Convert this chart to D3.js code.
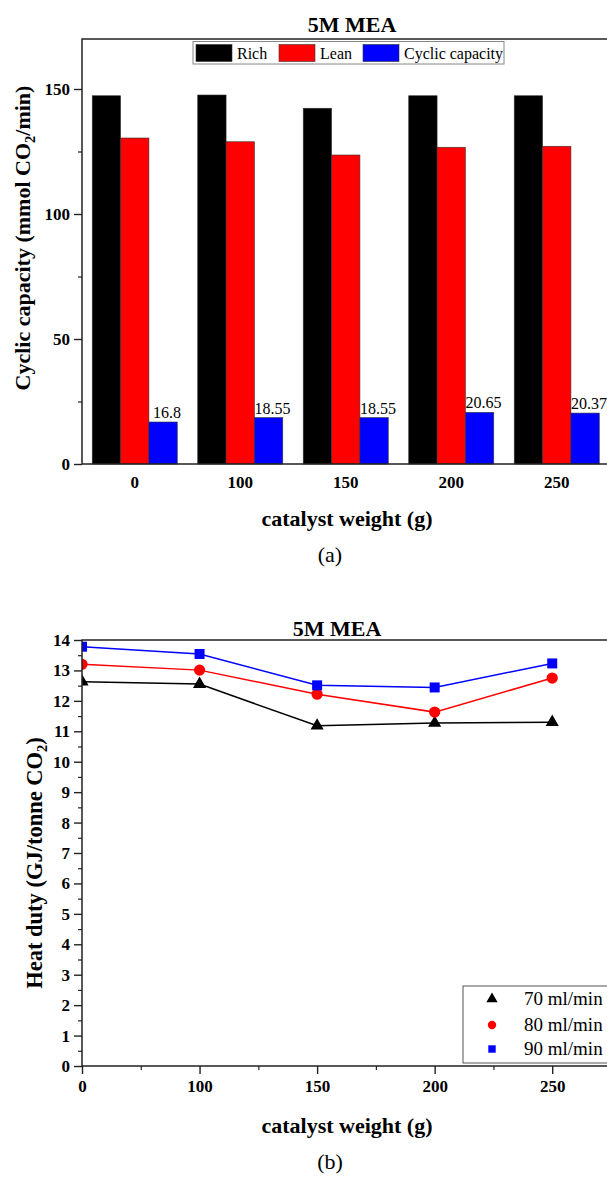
<!DOCTYPE html>
<html>
<head>
<meta charset="utf-8">
<script src="https://cdn.jsdelivr.net/npm/d3@7"></script>
<style>
  html, body { margin: 0; padding: 0; background: #fff; }
  svg { display: block; }
  text { font-family: "Liberation Serif", "Times New Roman", serif; }
</style>
</head>
<body>
<svg id="fig" width="607" height="1178"></svg>
<script>
// ---- data ----
const categories = ["0", "100", "150", "200", "250"];
const richValues = [147.3, 147.6, 142.3, 147.3, 147.3];
const leanValues = [130.4, 128.9, 123.6, 126.7, 127.1];
const cyclicValues = [16.8, 18.55, 18.55, 20.65, 20.37];
const barSeries = ["Rich", "Lean", "Cyclic capacity"];
const barColors = ["#000000", "#ff0000", "#0000ff"];
const barTicks = [0, 50, 100, 150];

const flow70 = [12.63, 12.55, 11.18, 11.27, 11.30];
const flow80 = [13.20, 13.01, 12.22, 11.63, 12.75];
const flow90 = [13.78, 13.54, 12.51, 12.44, 13.23];
const lineSeries = ["70 ml/min", "80 ml/min", "90 ml/min"];
const lineColors = ["#000000", "#ff0000", "#0000ff"];
const heatTicks = d3.range(0, 15, 1);

const svg = d3.select("#fig");
const axisColor = "#222";

// ================= (a) grouped bars =================
const A = { left: 82, right: 609.5, top: 39, bottom: 464 };
const xA = d3.scaleBand().domain(categories).range([A.left, A.right])
  .paddingInner(0.194).paddingOuter(0.097);
const xInner = d3.scaleBand().domain(barSeries).range([0, xA.bandwidth()]);
const yA = d3.scaleLinear().domain([0, 170]).range([A.bottom, A.top]);

const gA = svg.append("g");
const barData = categories.map((c, i) => ({
  cat: c, vals: [richValues[i], leanValues[i], cyclicValues[i]]
}));

const groups = gA.selectAll("g.grp").data(barData).join("g")
  .attr("class", "grp")
  .attr("transform", d => `translate(${xA(d.cat)},0)`);
groups.selectAll("rect").data(d => d.vals.map((v, k) => ({ v, k }))).join("rect")
  .attr("x", d => xInner(barSeries[d.k]))
  .attr("y", d => yA(d.v))
  .attr("width", xInner.bandwidth())
  .attr("height", d => yA(0) - yA(d.v))
  .attr("fill", d => barColors[d.k])
  .attr("stroke", "#333").attr("stroke-width", 0.6);

// value labels on the cyclic capacity bars
groups.append("text")
  .attr("x", xInner("Cyclic capacity") + xInner.bandwidth() / 2 + 4)
  .attr("y", (d, i) => yA(cyclicValues[i]) - 4)
  .attr("text-anchor", "middle")
  .attr("font-size", 16)
  .text((d, i) => String(cyclicValues[i]));

// y axis with minor ticks
const yAxisA = gA.append("g").attr("transform", `translate(${A.left},0)`)
  .call(d3.axisLeft(yA).tickValues(barTicks).tickSize(8).tickSizeOuter(0).tickPadding(4));
yAxisA.select(".domain").remove();
yAxisA.selectAll("line").attr("stroke", axisColor).attr("stroke-width", 1.4);
yAxisA.selectAll("text").attr("font-size", 17).attr("font-weight", "bold").attr("fill", "#000");
const yMinorA = gA.append("g").attr("transform", `translate(${A.left},0)`)
  .call(d3.axisLeft(yA).tickValues([25, 75, 125]).tickSize(4).tickFormat(""));
yMinorA.select(".domain").remove();
yMinorA.selectAll("line").attr("stroke", axisColor).attr("stroke-width", 1.2);

// x axis labels (no ticks)
const xAxisA = gA.append("g").attr("transform", `translate(0,${A.bottom})`)
  .call(d3.axisBottom(xA).tickSize(0).tickPadding(12));
xAxisA.select(".domain").remove();
xAxisA.selectAll("text").attr("font-size", 17).attr("font-weight", "bold").attr("fill", "#000");

// frame
gA.append("path")
  .attr("d", `M${A.right},${A.top}H${A.left}V${A.bottom}H${A.right}`)
  .attr("fill", "none").attr("stroke", axisColor).attr("stroke-width", 1.5);

// titles
gA.append("text").attr("x", 352).attr("y", 32).attr("text-anchor", "middle")
  .attr("font-size", 22).attr("font-weight", "bold").text("5M MEA");
gA.append("text").attr("x", 347).attr("y", 526).attr("text-anchor", "middle")
  .attr("font-size", 22).attr("font-weight", "bold").text("catalyst weight (g)");
const ylabA = gA.append("text")
  .attr("transform", `translate(30,238) rotate(-90)`)
  .attr("text-anchor", "middle").attr("font-size", 22).attr("font-weight", "bold");
ylabA.append("tspan").text("Cyclic capacity (mmol CO");
ylabA.append("tspan").attr("font-size", 14.5).attr("dy", 5).text("2");
ylabA.append("tspan").attr("dy", -5).text("/min)");
gA.append("text").attr("x", 330).attr("y", 562).attr("text-anchor", "middle")
  .attr("font-size", 22).text("(a)");

// legend
const legA = gA.append("g");
legA.append("rect").attr("x", 193).attr("y", 41.5).attr("width", 311).attr("height", 22.5)
  .attr("fill", "#fff").attr("stroke", "#888").attr("stroke-width", 1);
const legAx = [196, 279, 363];
barSeries.forEach((s, k) => {
  legA.append("rect").attr("x", legAx[k]).attr("y", 44.5).attr("width", 36).attr("height", 17)
    .attr("fill", barColors[k]).attr("stroke", "#333").attr("stroke-width", 0.6);
  legA.append("text").attr("x", legAx[k] + 41).attr("y", 58.5)
    .attr("font-size", 16).text(s);
});

// ================= (b) heat duty lines =================
const B = { left: 82, right: 611, top: 640, bottom: 1066 };
const xB = d3.scaleLinear().domain([0, 4.5]).range([B.left, B.right]);
const yB = d3.scaleLinear().domain([0, 14]).range([B.bottom, B.top]);
const gB = svg.append("g");

svg.append("clipPath").attr("id", "plotB").append("rect")
  .attr("x", B.left).attr("y", B.top - 20).attr("width", B.right - B.left).attr("height", B.bottom - B.top + 20);

const yAxisB = gB.append("g").attr("transform", `translate(${B.left},0)`)
  .call(d3.axisLeft(yB).tickValues(heatTicks).tickSize(8).tickPadding(4).tickFormat(d3.format("d")));
yAxisB.select(".domain").remove();
yAxisB.selectAll("line").attr("stroke", axisColor).attr("stroke-width", 1.4);
yAxisB.selectAll("text").attr("font-size", 17).attr("font-weight", "bold").attr("fill", "#000");
const yMinorB = gB.append("g").attr("transform", `translate(${B.left},0)`)
  .call(d3.axisLeft(yB).tickValues(d3.range(0.5, 14, 1)).tickSize(4).tickFormat(""));
yMinorB.select(".domain").remove();
yMinorB.selectAll("line").attr("stroke", axisColor).attr("stroke-width", 1.2);

const xAxisB = gB.append("g").attr("transform", `translate(0,${B.bottom})`)
  .call(d3.axisBottom(xB).tickValues([0, 1, 2, 3, 4]).tickSize(8).tickPadding(6)
    .tickFormat(i => categories[i]));
xAxisB.select(".domain").remove();
xAxisB.selectAll("line").attr("stroke", axisColor).attr("stroke-width", 1.4);
xAxisB.selectAll("text").attr("font-size", 17).attr("font-weight", "bold").attr("fill", "#000");
const xMinorB = gB.append("g").attr("transform", `translate(0,${B.bottom})`)
  .call(d3.axisBottom(xB).tickValues([0.5, 1.5, 2.5, 3.5]).tickSize(4).tickFormat(""));
xMinorB.select(".domain").remove();
xMinorB.selectAll("line").attr("stroke", axisColor).attr("stroke-width", 1.2);

const seriesB = [flow70, flow80, flow90];
const line = d3.line().x((d, i) => xB(i)).y(d => yB(d));
const plotB = gB.append("g").attr("clip-path", "url(#plotB)");
seriesB.forEach((vals, k) => {
  plotB.append("path").datum(vals).attr("d", line)
    .attr("fill", "none").attr("stroke", lineColors[k]).attr("stroke-width", 1.5);
});
const symbols = [d3.symbolTriangle, d3.symbolCircle, d3.symbolSquare];
const symSizes = [75, 100, 100];
seriesB.forEach((vals, k) => {
  plotB.selectAll(null).data(vals).join("path")
    .attr("transform", (d, i) => `translate(${xB(i)},${yB(d)})`)
    .attr("d", d3.symbol().type(symbols[k]).size(symSizes[k]))
    .attr("fill", lineColors[k]);
});

gB.append("path")
  .attr("d", `M${B.right},${B.top}H${B.left}V${B.bottom}H${B.right}`)
  .attr("fill", "none").attr("stroke", axisColor).attr("stroke-width", 1.5);

gB.append("text").attr("x", 337).attr("y", 636).attr("text-anchor", "middle")
  .attr("font-size", 22).attr("font-weight", "bold").text("5M MEA");
gB.append("text").attr("x", 347).attr("y", 1133).attr("text-anchor", "middle")
  .attr("font-size", 22).attr("font-weight", "bold").text("catalyst weight (g)");
const ylabB = gB.append("text")
  .attr("transform", `translate(42,863) rotate(-90)`)
  .attr("text-anchor", "middle").attr("font-size", 22.5).attr("font-weight", "bold");
ylabB.append("tspan").text("Heat duty (GJ/tonne CO");
ylabB.append("tspan").attr("font-size", 14.5).attr("dy", 5).text("2");
ylabB.append("tspan").attr("dy", -5).text(")");
gB.append("text").attr("x", 330).attr("y", 1169).attr("text-anchor", "middle")
  .attr("font-size", 22).text("(b)");

// legend
const legB = gB.append("g");
legB.append("rect").attr("x", 463).attr("y", 986).attr("width", 160).attr("height", 77)
  .attr("fill", "#fff").attr("stroke", "#555").attr("stroke-width", 1);
const legBy = [999, 1025, 1049];
lineSeries.forEach((s, k) => {
  legB.append("path")
    .attr("transform", `translate(492,${legBy[k]})`)
    .attr("d", d3.symbol().type(symbols[k]).size(55))
    .attr("fill", lineColors[k]);
  legB.append("text").attr("x", 524).attr("y", legBy[k] + 6)
    .attr("font-size", 19).text(s);
});
</script>
</body>
</html>
